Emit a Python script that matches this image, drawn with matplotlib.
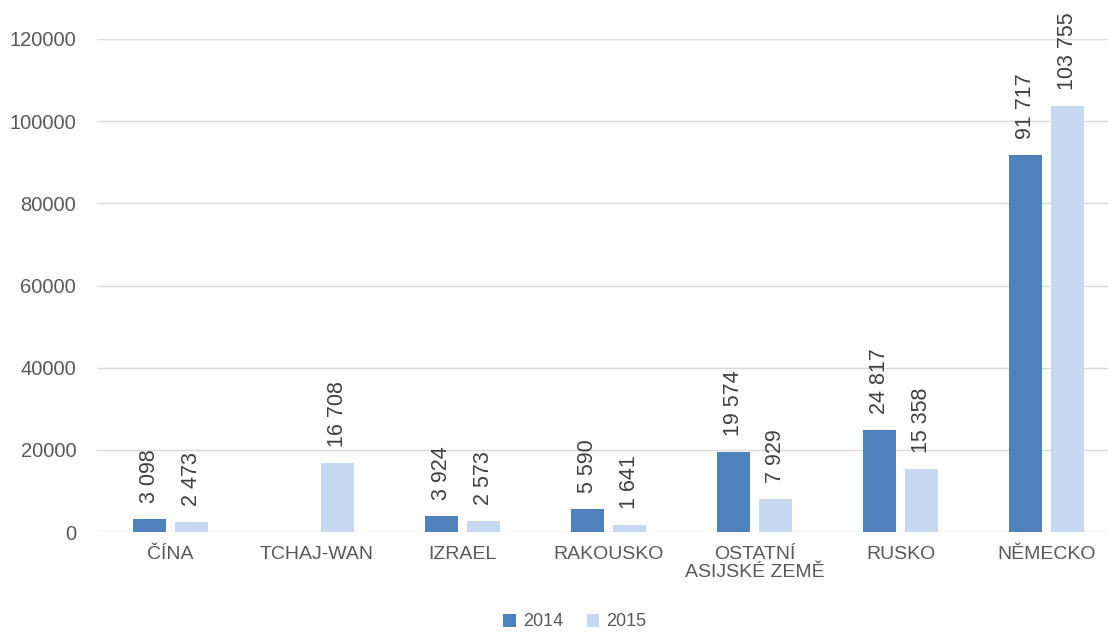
import matplotlib

matplotlib.use("Agg")
import matplotlib.pyplot as plt
import numpy as np

plt.rcParams["font.family"] = ["Liberation Sans", "DejaVu Sans"]

categories = ["ČÍNA", "TCHAJ-WAN", "IZRAEL", "RAKOUSKO", "OSTATNÍ\nASIJSKÉ ZEMĚ", "RUSKO", "NĚMECKO"]
values_2014 = [3098, None, 3924, 5590, 19574, 24817, 91717]
values_2015 = [2473, 16708, 2573, 1641, 7929, 15358, 103755]
series_names = ["2014", "2015"]
y_ticks = [0, 20000, 40000, 60000, 80000, 100000, 120000]

COLORS = ["#4f81bd", "#c6d9f0"]
TEXT = "#595959"
GRID = "#d9d9d9"

W, H = 1108, 633
fig = plt.figure(figsize=(W / 100, H / 100), dpi=100)
# plot area in pixels: x 97..1120, y 39..532 (right side runs off the canvas)
ax = fig.add_axes([97 / W, (H - 532) / H, (1120 - 97) / W, (532 - 39) / H])

x = np.arange(len(categories))
bar_w = 0.226
offset = 0.144

for i, (vals, name) in enumerate(zip([values_2014, values_2015], series_names)):
    xs = [xi + (2 * i - 1) * offset for xi, v in zip(x, vals) if v is not None]
    ys = [v for v in vals if v is not None]
    ax.bar(xs, ys, width=bar_w, color=COLORS[i], label=name, zorder=3)
    for xi, v in zip(xs, ys):
        ax.annotate(f"{v:,}".replace(",", " "), (xi, v), xytext=(0, 11.5),
                    textcoords="offset points", rotation=90, ha="center",
                    va="bottom", fontsize=15.5, color="#404040")

ax.set_xlim(-0.5, len(categories) - 0.5)
ax.set_ylim(0, 120000)
ax.set_yticks(y_ticks)
ax.set_yticklabels([str(t) for t in y_ticks])
ax.set_xticks(x)
ax.set_xticklabels(categories, fontsize=14, color=TEXT, linespacing=1.05)
ax.tick_params(axis="y", length=0, labelsize=14.5, labelcolor=TEXT, pad=15)
ax.tick_params(axis="x", length=0, pad=10)
ax.grid(axis="y", color=GRID, linewidth=1, zorder=0)
ax.set_axisbelow(True)
for s in ax.spines.values():
    s.set_visible(False)

fig.legend(loc="center", bbox_to_anchor=(575 / W, 1 - 622 / H), ncol=2,
           frameon=False, fontsize=13, labelcolor=TEXT, handlelength=0.7,
           handleheight=0.7, handletextpad=0.4, columnspacing=1.3)

fig.savefig("out.png", dpi=100)
